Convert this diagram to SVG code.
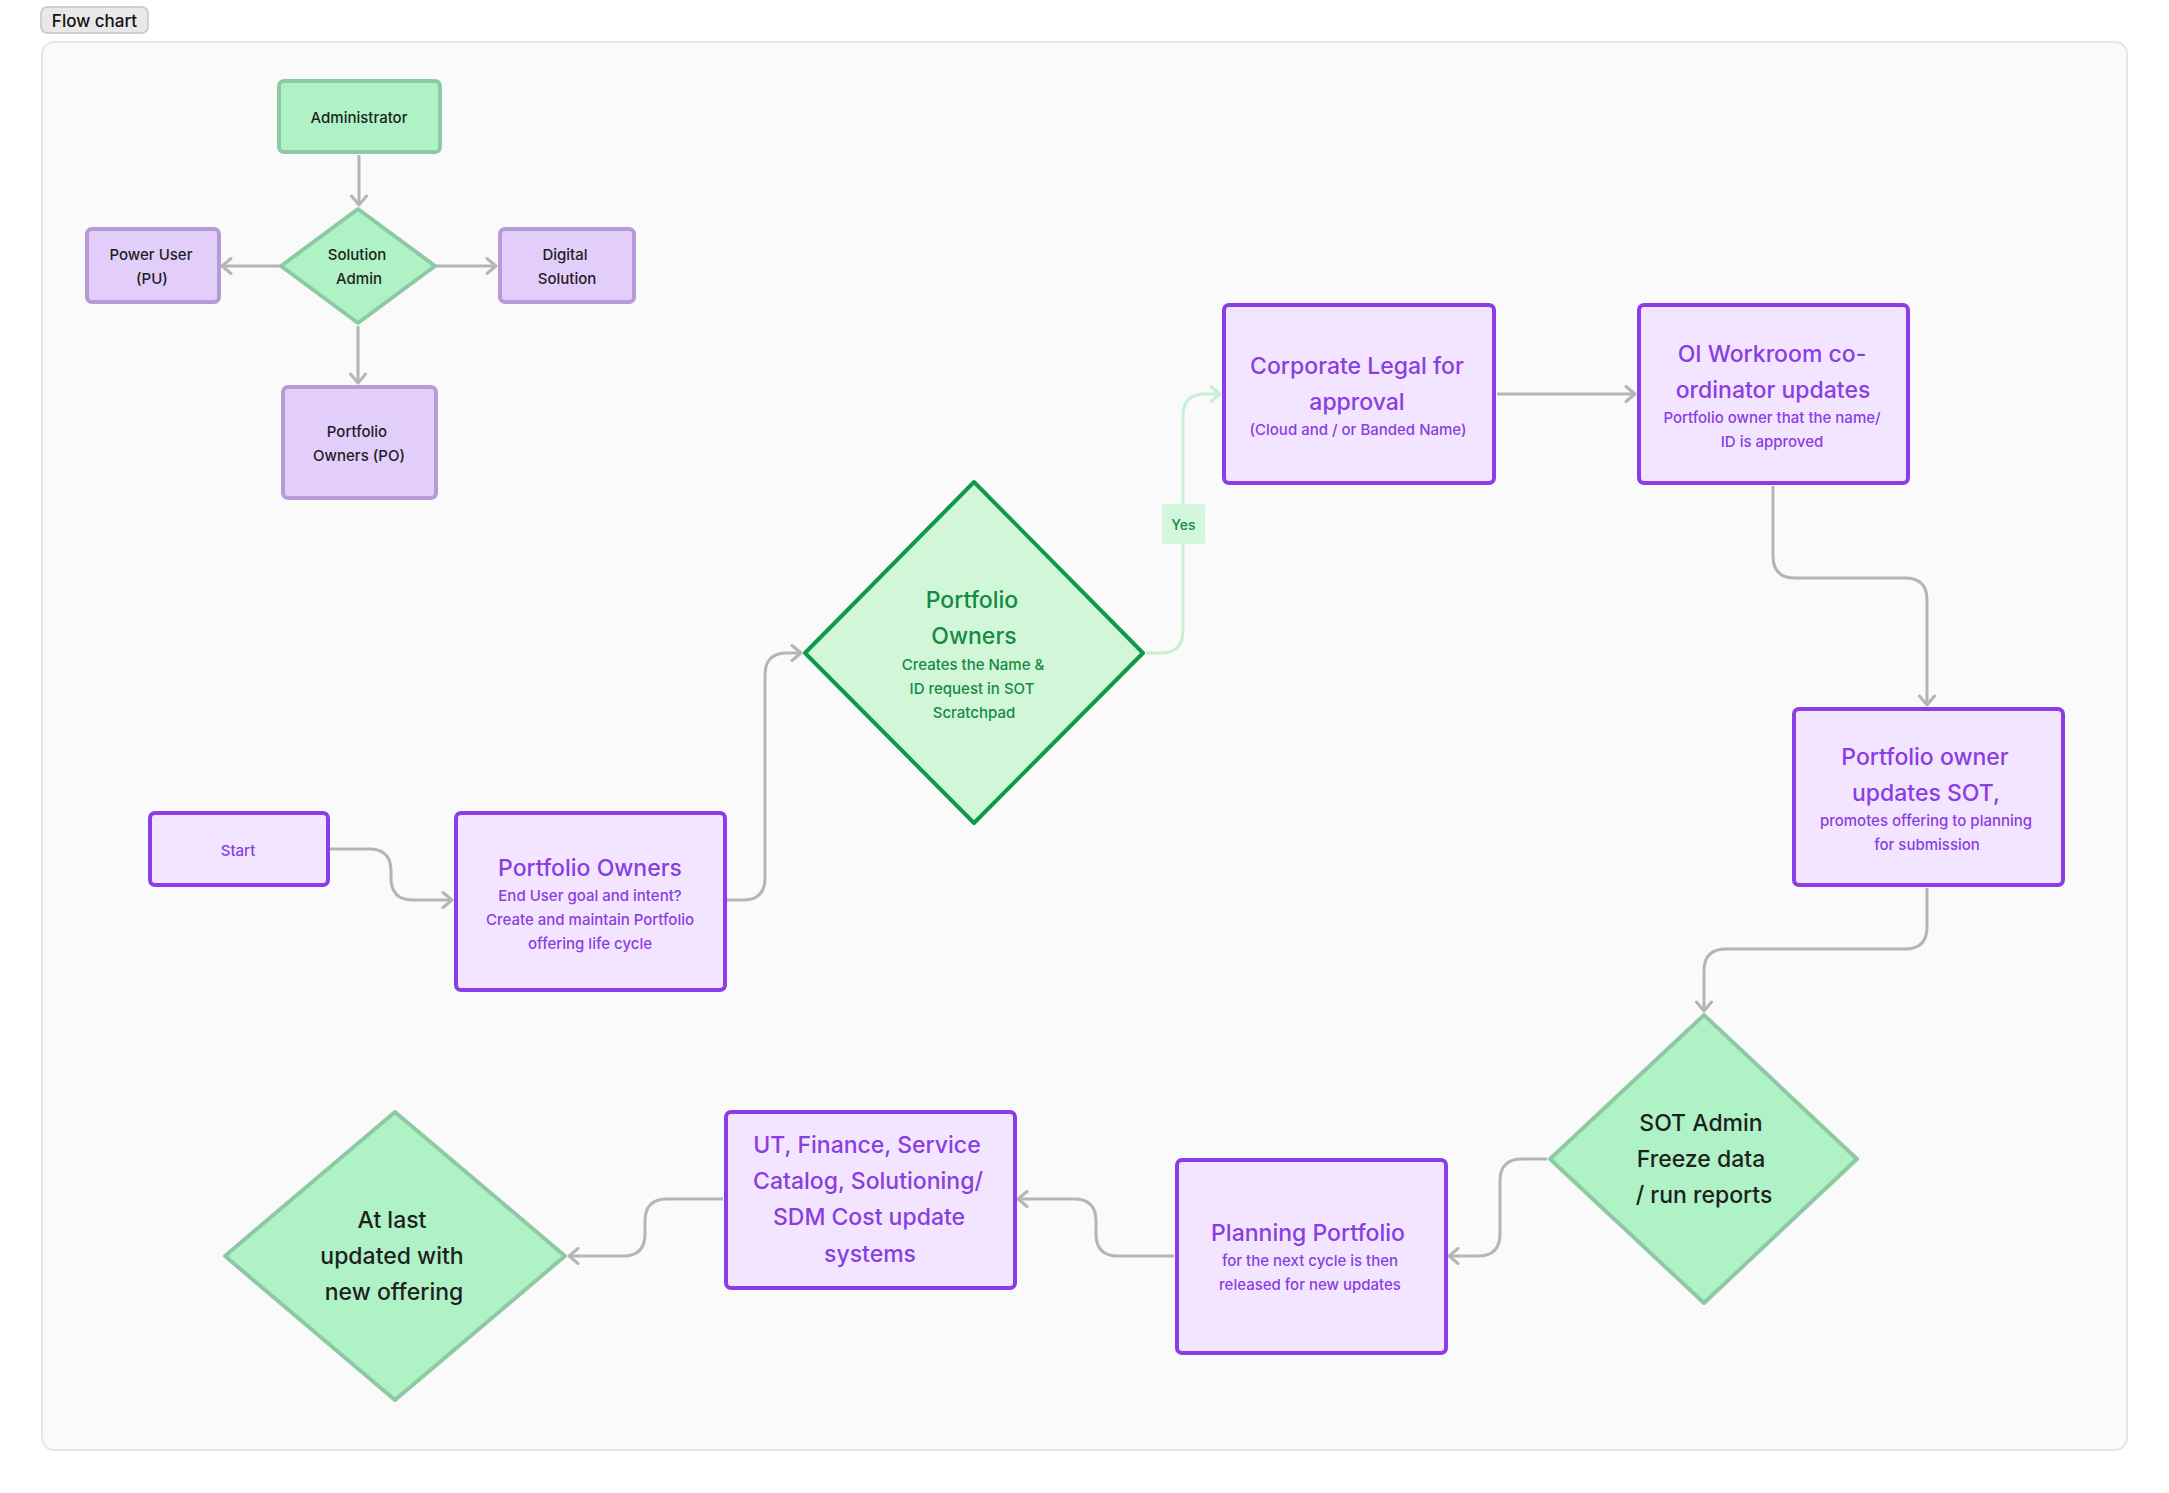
<svg xmlns="http://www.w3.org/2000/svg" width="2169" height="1493" viewBox="0 0 2169 1493">
<style>
text{font-family:Inter,"Noto Sans","Liberation Sans",sans-serif;text-anchor:middle;dominant-baseline:central;font-weight:500}
.lbl{font-size:15px;fill:#1f1f1f}
.lblp{font-size:15px;fill:#8a3de2}
.big{font-size:23px;fill:#8a3de2}
.sm{font-size:15px;fill:#8a3de2}
.bigd{font-size:23px;fill:#1f1f1f}
.bigg{font-size:23px;fill:#128c43}
.smg{font-size:15px;fill:#128c43}
.gnode{fill:#aef2c6;stroke:#8dc9a2;stroke-width:4;stroke-linejoin:round}
.pnode{fill:#e2cdfb;stroke:#b89bd6;stroke-width:4}
.pbox{fill:#f3e5ff;stroke:#8b3de6;stroke-width:4}
.conn{fill:none;stroke:#b5b5b5;stroke-width:3;marker-end:url(#arr)}
.connG{fill:none;stroke:#c6f0d2;stroke-width:3;marker-end:url(#arrG)}
</style>
<defs>
<marker id="arr" markerUnits="userSpaceOnUse" markerWidth="16" markerHeight="18" refX="12" refY="9" orient="auto"><path d="M3,1.5 L12,9 L3,16.5" fill="none" stroke="#b5b5b5" stroke-width="3" stroke-linecap="round" stroke-linejoin="round"/></marker>
<marker id="arrG" markerUnits="userSpaceOnUse" markerWidth="16" markerHeight="18" refX="12" refY="9" orient="auto"><path d="M3,1.5 L12,9 L3,16.5" fill="none" stroke="#c6f0d2" stroke-width="3" stroke-linecap="round" stroke-linejoin="round"/></marker>
</defs>
<rect x="0" y="0" width="2169" height="1493" fill="#ffffff"/>
<g id="title">
<rect x="41" y="7" width="107" height="26" rx="6" fill="#e8e8e8" stroke="#c4c4c4" stroke-width="1.5"/>
<text x="94.5" y="21" style="font-size:17px;fill:#111">Flow chart</text>
</g>
<rect x="42" y="42" width="2085" height="1408" rx="12" fill="#fafafa" stroke="#e6e6e6" stroke-width="2"/>
<g id="connectors">
<path class="conn" d="M359,155 L359,205"/>
<path class="conn" d="M280,266 L222,266"/>
<path class="conn" d="M436,266 L496,266"/>
<path class="conn" d="M358,326 L358,383"/>
<path class="conn" d="M330,849 L369,849 Q391,849 391,871 L391,878 Q391,900 413,900 L452,900"/>
<path class="conn" d="M727,900 L743,900 Q765,900 765,878 L765,675 Q765,653 787,653 L801,653"/>
<path class="connG" d="M1146,653 L1161,653 Q1183,653 1183,631 L1183,416 Q1183,394 1205,394 L1220,394"/>
<path class="conn" d="M1497,394 L1635,394"/>
<path class="conn" d="M1773,486 L1773,556 Q1773,578 1795,578 L1905,578 Q1927,578 1927,600 L1927,705"/>
<path class="conn" d="M1927,888 L1927,927 Q1927,949 1905,949 L1726,949 Q1704,949 1704,971 L1704,1011"/>
<path class="conn" d="M1547,1159 L1522,1159 Q1500,1159 1500,1181 L1500,1234 Q1500,1256 1478,1256 L1449,1256"/>
<path class="conn" d="M1174,1256 L1118,1256 Q1096,1256 1096,1234 L1096,1221 Q1096,1199 1074,1199 L1018,1199"/>
<path class="conn" d="M723,1199 L667,1199 Q645,1199 645,1221 L645,1234 Q645,1256 623,1256 L569,1256"/>
<rect x="1162" y="504" width="43" height="40" rx="2" fill="#d3f7dc"/>
<text x="1183.5" y="524" style="font-size:14px;fill:#128c43">Yes</text>
</g>
<g id="administrator">
<rect class="gnode" x="279" y="81" width="161" height="71" rx="5"/>
<text class="lbl" x="359" y="117">Administrator</text>
</g>
<g id="solution-admin">
<polygon class="gnode" points="281,266 358,209 435,266 358,323"/>
<text class="lbl" x="357" y="254">Solution</text>
<text class="lbl" x="359" y="278">Admin</text>
</g>
<g id="power-user">
<rect class="pnode" x="87" y="229" width="132" height="73" rx="5"/>
<text class="lbl" x="151" y="254">Power User</text>
<text class="lbl" x="152" y="278">(PU)</text>
</g>
<g id="digital-solution">
<rect class="pnode" x="500" y="229" width="134" height="73" rx="5"/>
<text class="lbl" x="565" y="254">Digital</text>
<text class="lbl" x="567" y="278">Solution</text>
</g>
<g id="portfolio-owners-po">
<rect class="pnode" x="283" y="387" width="153" height="111" rx="5"/>
<text class="lbl" x="357" y="431">Portfolio</text>
<text class="lbl" x="359" y="455">Owners (PO)</text>
</g>
<g id="start">
<rect class="pbox" x="150" y="813" width="178" height="72" rx="5"/>
<text class="lblp" x="238" y="850">Start</text>
</g>
<g id="portfolio-owners">
<rect class="pbox" x="456" y="813" width="269" height="177" rx="5"/>
<text class="big" x="590" y="868">Portfolio Owners</text>
<text class="sm" x="590" y="895">End User goal and intent?</text>
<text class="sm" x="590" y="919">Create and maintain Portfolio</text>
<text class="sm" x="590" y="943">offering life cycle</text>
</g>
<g id="portfolio-owners-decision">
<polygon points="805,653 974,482 1143,653 974,823" fill="#d2f7d8" stroke="#0f9a4a" stroke-width="4" stroke-linejoin="round"/>
<text class="bigg" x="972" y="600">Portfolio</text>
<text class="bigg" x="974" y="636">Owners</text>
<text class="smg" x="973" y="664">Creates the Name &amp;</text>
<text class="smg" x="972" y="688">ID request in SOT</text>
<text class="smg" x="974" y="712">Scratchpad</text>
</g>
<g id="corporate-legal">
<rect class="pbox" x="1224" y="305" width="270" height="178" rx="5"/>
<text class="big" x="1357" y="366">Corporate Legal for</text>
<text class="big" x="1357" y="402">approval</text>
<text class="sm" x="1358" y="429">(Cloud and / or Banded Name)</text>
</g>
<g id="oi-workroom">
<rect class="pbox" x="1639" y="305" width="269" height="178" rx="5"/>
<text class="big" x="1772" y="354">OI Workroom co-</text>
<text class="big" x="1773" y="390">ordinator updates</text>
<text class="sm" x="1772" y="417">Portfolio owner that the name/</text>
<text class="sm" x="1772" y="441">ID is approved</text>
</g>
<g id="portfolio-owner-updates">
<rect class="pbox" x="1794" y="709" width="269" height="176" rx="5"/>
<text class="big" x="1925" y="757">Portfolio owner</text>
<text class="big" x="1926" y="793">updates SOT,</text>
<text class="sm" x="1926" y="820">promotes offering to planning</text>
<text class="sm" x="1927" y="844">for submission</text>
</g>
<g id="sot-admin">
<polygon class="gnode" points="1550,1159 1704,1015 1857,1159 1704,1303"/>
<text class="bigd" x="1701" y="1123">SOT Admin</text>
<text class="bigd" x="1701" y="1159">Freeze data</text>
<text class="bigd" x="1704" y="1195">/ run reports</text>
</g>
<g id="planning-portfolio">
<rect class="pbox" x="1177" y="1160" width="269" height="193" rx="5"/>
<text class="big" x="1308" y="1233">Planning Portfolio</text>
<text class="sm" x="1310" y="1260">for the next cycle is then</text>
<text class="sm" x="1310" y="1284">released for new updates</text>
</g>
<g id="ut-finance">
<rect class="pbox" x="726" y="1112" width="289" height="176" rx="5"/>
<text class="big" x="867" y="1145">UT, Finance, Service</text>
<text class="big" x="868" y="1181">Catalog, Solutioning/</text>
<text class="big" x="869" y="1217">SDM Cost update</text>
<text class="big" x="870" y="1254">systems</text>
</g>
<g id="at-last">
<polygon class="gnode" points="225,1256 395,1112 565,1256 395,1400"/>
<text class="bigd" x="392" y="1220">At last</text>
<text class="bigd" x="392" y="1256">updated with</text>
<text class="bigd" x="394" y="1292">new offering</text>
</g>
</svg>
